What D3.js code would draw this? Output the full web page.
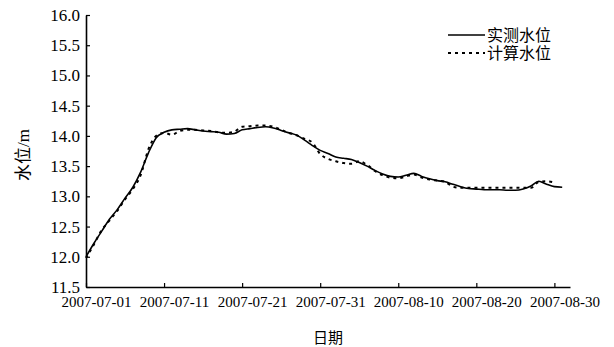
<!DOCTYPE html>
<html>
<head>
<meta charset="utf-8">
<script src="https://cdn.jsdelivr.net/npm/d3@7"></script>
<style>
  body { margin: 0; background: #fff; }
</style>
</head>
<body>
<script>
// 每日水位，2007-07-01 起
const startDay = '2007-07-01';
const observed = [12.00, 12.22, 12.42, 12.62, 12.78, 12.97, 13.15, 13.40, 13.72, 13.97,
  14.06, 14.10, 14.11, 14.12, 14.10, 14.08, 14.07, 14.06, 14.03, 14.04,
  14.10, 14.12, 14.14, 14.15, 14.13, 14.09, 14.05, 14.01, 13.93, 13.84,
  13.76, 13.71, 13.65, 13.63, 13.61, 13.56, 13.50, 13.43, 13.37, 13.33,
  13.32, 13.35, 13.38, 13.33, 13.29, 13.26, 13.24, 13.20, 13.16, 13.13,
  13.12, 13.11, 13.11, 13.11, 13.10, 13.10, 13.12, 13.17, 13.25, 13.20,
  13.16, 13.15];
const computed = [11.98, 12.20, 12.44, 12.60, 12.76, 12.95, 13.12, 13.35, 13.78, 14.00,
  14.05, 14.02, 14.08, 14.10, 14.10, 14.09, 14.08, 14.06, 14.05, 14.07,
  14.15, 14.16, 14.17, 14.17, 14.15, 14.10, 14.05, 14.01, 13.95, 13.89,
  13.70, 13.62, 13.58, 13.55, 13.54, 13.58, 13.52, 13.42, 13.35, 13.31,
  13.30, 13.33, 13.36, 13.31, 13.28, 13.26, 13.24, 13.16, 13.14, 13.14,
  13.14, 13.14, 13.14, 13.14, 13.14, 13.14, 13.14, 13.14, 13.24, 13.25,
  13.23];
const yTicks = [11.5, 12.0, 12.5, 13.0, 13.5, 14.0, 14.5, 15.0, 15.5, 16.0];
const xTickLabels = ['2007-07-01', '2007-07-11', '2007-07-21', '2007-07-31', '2007-08-10', '2007-08-20', '2007-08-30'];
const seriesNames = ['实测水位', '计算水位'];

const serif = 'Liberation Serif, Tinos, Times New Roman, DejaVu Serif, serif';
const cjk = 'Noto Sans CJK SC, sans-serif';

const width = 614, height = 347;
const margin = {top: 15, right: 44, bottom: 60, left: 86};
const plotW = width - margin.left - margin.right;
const plotH = height - margin.top - margin.bottom;

const parse = d3.timeParse('%Y-%m-%d');
const t0 = parse(startDay);
const dayAt = i => d3.timeDay.offset(t0, i);

const svg = d3.select('body').append('svg')
  .attr('width', width).attr('height', height);

const g = svg.append('g')
  .attr('transform', `translate(${margin.left},${margin.top})`);

const x = d3.scaleTime()
  .domain([t0, parse('2007-09-01')])
  .range([0, plotW]);
const y = d3.scaleLinear()
  .domain([11.5, 16.0])
  .range([plotH, 0]);

// 坐标轴
const xAxis = d3.axisBottom(x)
  .tickValues(xTickLabels.map(parse))
  .tickSizeInner(-4).tickSizeOuter(0)
  .tickFormat(d3.timeFormat('%Y-%m-%d'));
const xg = g.append('g')
  .attr('transform', `translate(0,${plotH})`)
  .call(xAxis);
xg.selectAll('text')
  .attr('y', 20).attr('dy', 0).attr('dx', 10)
  .attr('font-size', 15);

const yAxis = d3.axisLeft(y)
  .tickValues(yTicks)
  .tickSizeInner(-4).tickSizeOuter(0)
  .tickFormat(d3.format('.1f'));
const yg = g.append('g')
  .call(yAxis);
yg.selectAll('text')
  .attr('x', -6)
  .attr('font-size', 17);

[xg, yg].forEach(a => {
  a.attr('font-family', serif);
  a.select('.domain').attr('stroke', '#000').attr('stroke-width', 1.6);
  a.selectAll('.tick line').attr('stroke', '#000').attr('stroke-width', 1.2);
  a.selectAll('text').attr('fill', '#000').attr('font-family', serif);
});

// 曲线
const line = d3.line()
  .x((d, i) => x(dayAt(i)))
  .y(d => y(d))
  .curve(d3.curveMonotoneX);

g.append('path')
  .datum(computed)
  .attr('fill', 'none')
  .attr('stroke', '#000')
  .attr('stroke-width', 2)
  .attr('stroke-dasharray', '3,4')
  .attr('d', line);

g.append('path')
  .datum(observed)
  .attr('fill', 'none')
  .attr('stroke', '#000')
  .attr('stroke-width', 1.6)
  .attr('d', line);

// 图例
const legend = svg.append('g').attr('transform', 'translate(448,35)');
seriesNames.forEach((name, i) => {
  const row = legend.append('g').attr('transform', `translate(0,${i * 18})`);
  row.append('line')
    .attr('x1', 0).attr('x2', 37)
    .attr('stroke', '#000')
    .attr('stroke-width', i ? 2 : 1.6)
    .attr('stroke-dasharray', i ? '3,4' : null);
  row.append('text')
    .attr('x', 39).attr('dy', '0.36em')
    .attr('font-family', cjk)
    .attr('font-size', 16)
    .text(name);
});

// 轴标题
svg.append('text')
  .attr('x', 328).attr('y', 338).attr('dy', '0.36em')
  .attr('text-anchor', 'middle')
  .attr('font-family', cjk)
  .attr('font-size', 15)
  .text('日期');

svg.append('text')
  .attr('transform', 'translate(23,155) rotate(-90)')
  .attr('text-anchor', 'middle')
  .attr('dy', '0.36em')
  .attr('font-family', serif + ', Noto Sans CJK SC')
  .attr('font-size', 17)
  .text('水位/m');
</script>
</body>
</html>
